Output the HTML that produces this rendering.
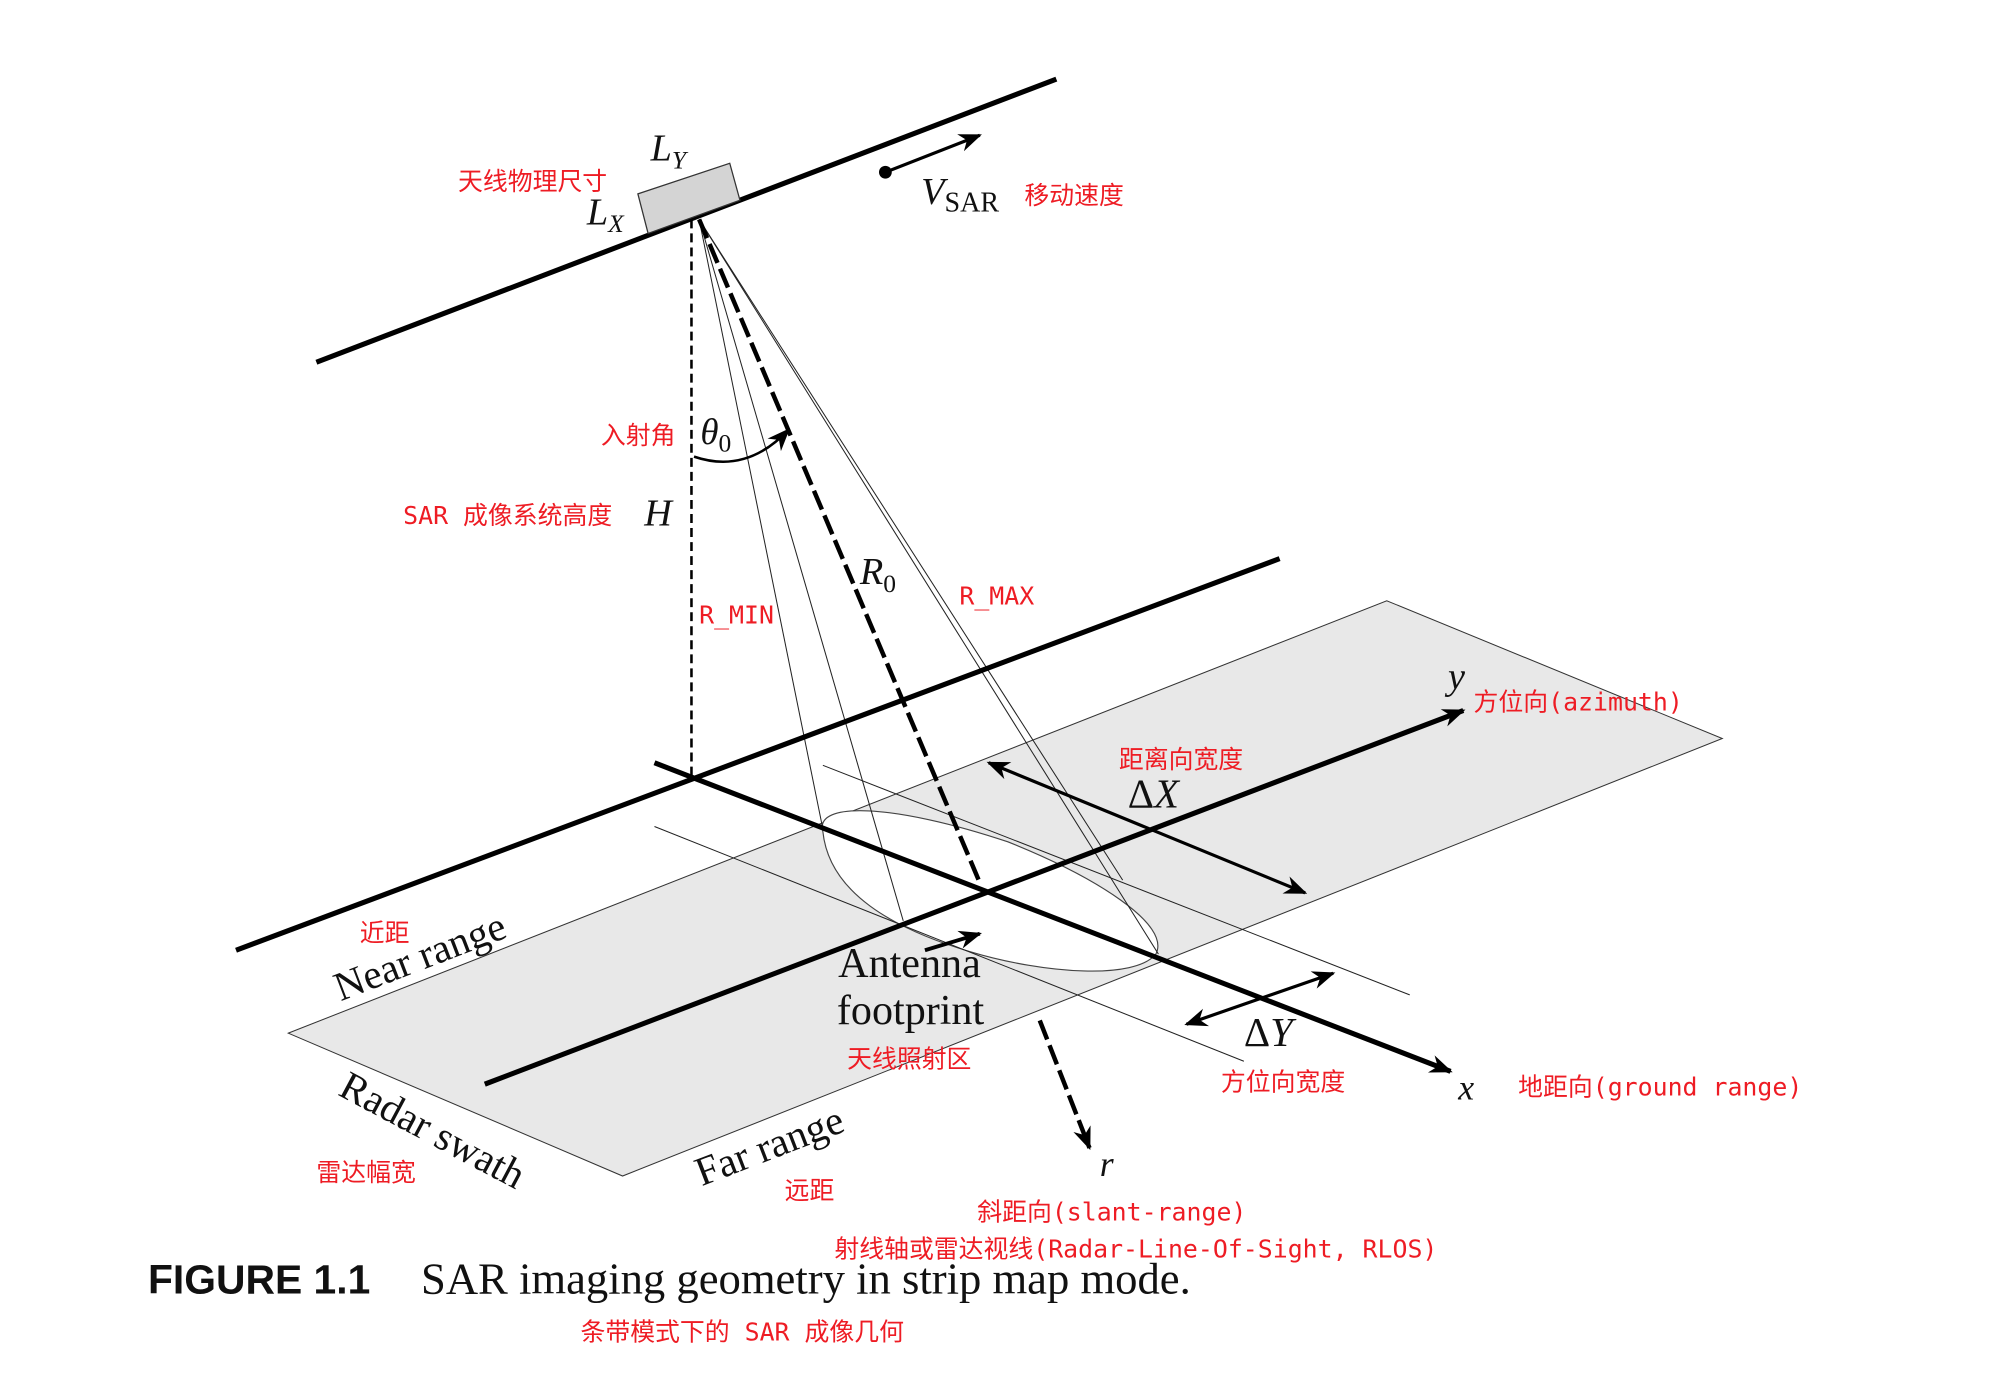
<!DOCTYPE html>
<html><head><meta charset="utf-8"><style>
html,body{margin:0;padding:0;background:#fff;}
svg{display:block}
.s{font-family:"Liberation Serif","DejaVu Serif",serif;fill:#111}
.i{font-style:italic}
.r{font-family:"DejaVu Sans Mono","Noto Sans CJK SC",monospace;fill:#ee1c24;font-size:19.5px}
</style></head><body>
<svg width="2000" height="1376" viewBox="0 0 1552 1068" preserveAspectRatio="none">
<defs>
<marker id="ah2" viewBox="0 0 10 10" refX="9" refY="5" markerWidth="18" markerHeight="18" orient="auto-start-reverse" markerUnits="userSpaceOnUse"><path d="M0,1 L10,5 L0,9 L3,5 z" fill="#000"/></marker>
</defs>
<rect width="1552" height="1068" fill="#fff"/>
<g transform="scale(0.99)">
<polygon points="226,810 1087,471 1350,579 488,922" fill="#e8e8e8" stroke="#333" stroke-width="0.8"/>
<path d="M645,652 C638,628 700,630 790,660 C860,688 918,725 906,748 C890,768 820,764 760,746 C700,728 650,700 645,652 Z" fill="#fff" stroke="#444" stroke-width="0.9"/>
<line x1="645" y1="600" x2="1105" y2="780" stroke="#222" stroke-width="0.8"/>
<line x1="513" y1="648" x2="975" y2="832" stroke="#222" stroke-width="0.8"/>
<line x1="248" y1="284" x2="828" y2="62" stroke="#000" stroke-width="4"/>
<polygon points="500,152 572,128 580,157 508,183" fill="#d4d4d4" stroke="#333" stroke-width="1"/>
<circle cx="694" cy="135" r="5" fill="#000"/>
<line x1="694" y1="135" x2="768" y2="106" stroke="#000" stroke-width="2.5" marker-end="url(#ah2)"/>
<g stroke="#222" stroke-width="0.8">
<line x1="548" y1="172" x2="645" y2="650"/>
<line x1="548" y1="172" x2="708" y2="722"/>
<line x1="548" y1="172" x2="880" y2="690"/>
<line x1="548" y1="172" x2="908" y2="748"/>
</g>
<line x1="542" y1="172" x2="542" y2="608" stroke="#000" stroke-width="2" stroke-dasharray="7,4"/>
<line x1="548" y1="172" x2="768" y2="692" stroke="#000" stroke-width="3.5" stroke-dasharray="16,5"/>
<line x1="815" y1="800" x2="854" y2="900" stroke="#000" stroke-width="3.5" stroke-dasharray="16,5" marker-end="url(#ah2)"/>
<path d="M544,358 Q585,372 618,337" fill="none" stroke="#000" stroke-width="2" marker-end="url(#ah2)"/>
<line x1="185" y1="745" x2="1003" y2="438" stroke="#000" stroke-width="4"/>
<line x1="513" y1="598" x2="1137" y2="840" stroke="#000" stroke-width="4" marker-end="url(#ah2)"/>
<line x1="380" y1="850" x2="1147" y2="557" stroke="#000" stroke-width="4" marker-end="url(#ah2)"/>
<line x1="775" y1="598" x2="1023" y2="700" stroke="#000" stroke-width="2.5" marker-start="url(#ah2)" marker-end="url(#ah2)"/>
<line x1="930" y1="803" x2="1045" y2="763" stroke="#000" stroke-width="2.5" marker-start="url(#ah2)" marker-end="url(#ah2)"/>
<line x1="725" y1="745" x2="768" y2="732" stroke="#000" stroke-width="3" marker-end="url(#ah2)"/>
<text class="s i" x="510" y="126" font-size="30">L<tspan font-size="20" dy="6">Y</tspan></text>
<text class="s i" x="460" y="176" font-size="30">L<tspan font-size="20" dy="6">X</tspan></text>
<text class="s" x="722" y="160" font-size="30"><tspan class="i">V</tspan><tspan font-size="22" dy="6">SAR</tspan></text>
<text class="s i" x="549" y="348" font-size="29">θ<tspan font-size="20" dy="6" font-style="normal">0</tspan></text>
<text class="s i" x="505" y="412" font-size="30">H</text>
<text class="s i" x="674" y="458" font-size="30">R<tspan font-size="20" dy="6" font-style="normal">0</tspan></text>
<text class="s i" x="1135" y="540" font-size="30">y</text>
<text class="s" x="884" y="633" font-size="32">Δ<tspan class="i">X</tspan></text>
<text class="s" x="975" y="820" font-size="32">Δ<tspan class="i">Y</tspan></text>
<text class="s i" x="1143" y="862" font-size="28">x</text>
<text class="s i" x="862" y="922" font-size="28">r</text>
<text class="s" x="657" y="766" font-size="33">Antenna</text>
<text class="s" x="656" y="803" font-size="33">footprint</text>
<text class="s" font-size="32" transform="translate(267,785) rotate(-21)">Near range</text>
<text class="s" font-size="32" transform="translate(264,858) rotate(28)">Radar swath</text>
<text class="s" font-size="32" transform="translate(550,930) rotate(-21)">Far range</text>
<text class="r" x="359" y="149">天线物理尺寸</text>
<text class="r" x="803" y="160">移动速度</text>
<text class="r" x="471" y="348">入射角</text>
<text class="r" x="316" y="411">SAR 成像系统高度</text>
<text class="r" x="548" y="489" font-size="17">R_MIN</text>
<text class="r" x="752" y="474" font-size="17">R_MAX</text>
<text class="r" x="1155" y="557">方位向(azimuth)</text>
<text class="r" x="877" y="602">距离向宽度</text>
<text class="r" x="282" y="738">近距</text>
<text class="r" x="664" y="837">天线照射区</text>
<text class="r" x="957" y="855">方位向宽度</text>
<text class="r" x="1190" y="859">地距向(ground range)</text>
<text class="r" x="248" y="926">雷达幅宽</text>
<text class="r" x="615" y="940">远距</text>
<text class="r" x="766" y="957">斜距向(slant-range)</text>
<text class="r" x="654" y="986">射线轴或雷达视线(Radar-Line-Of-Sight, RLOS)</text>
<text x="116" y="1014" font-family="Liberation Sans, sans-serif" font-weight="bold" font-size="32" fill="#111">FIGURE 1.1</text>
<text class="s" x="330" y="1014" font-size="35">SAR imaging geometry in strip map mode.</text>
<text class="r" x="455" y="1051">条带模式下的 SAR 成像几何</text>
</g>
</svg>
</body></html>
